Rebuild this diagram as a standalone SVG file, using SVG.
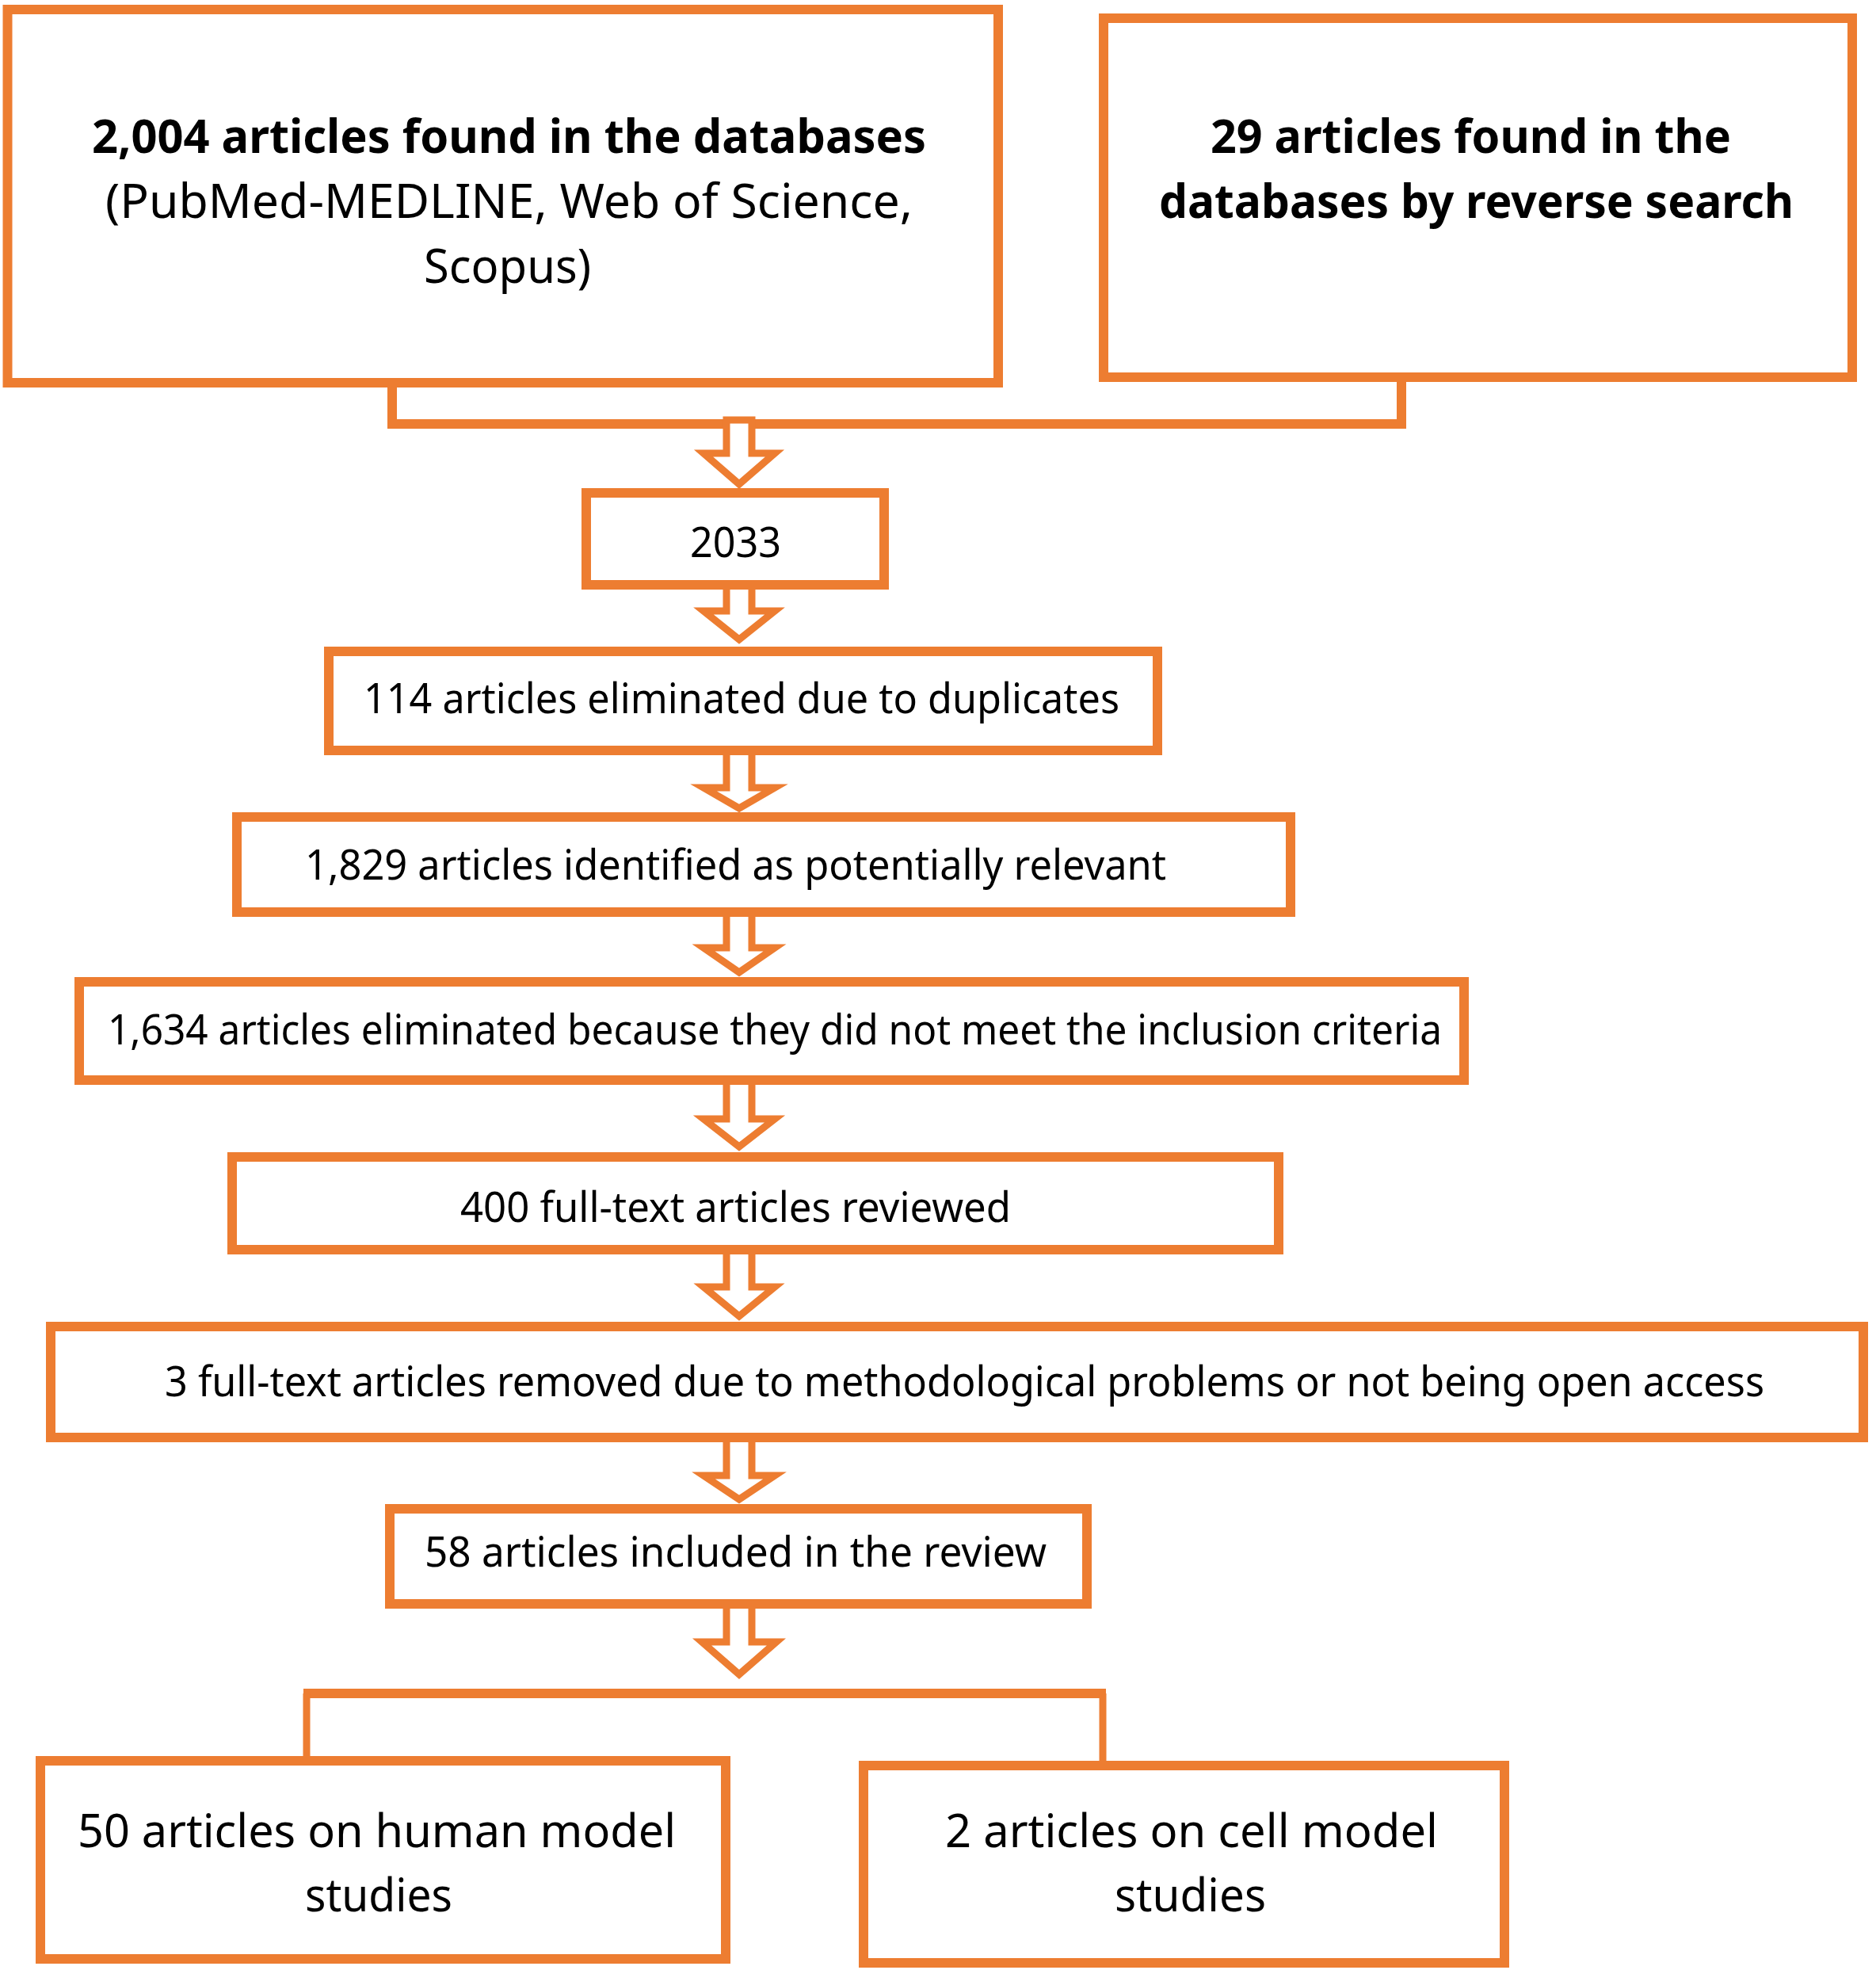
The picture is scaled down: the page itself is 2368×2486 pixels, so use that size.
<svg xmlns="http://www.w3.org/2000/svg" width="2368" height="2486" viewBox="0 0 2368 2486">
<style>
.box{fill:#ffffff;stroke:#ED7D31;stroke-width:12}
.arr{fill:#ffffff;stroke:#ED7D31;stroke-width:9;stroke-linejoin:miter}
.ln{fill:none;stroke:#ED7D31}
text{font-family:"Noto Sans","Open Sans",sans-serif;fill:#000000}
.b{font-weight:bold;font-size:60px}
.t{font-size:60px}
.m{font-size:52px}
.l{font-size:58px}
</style>
<rect width="2368" height="2486" fill="#ffffff"/>
<g id="connectors">
<polyline class="ln" stroke-width="12" points="495,480 495,535 1769,535 1769,476"/>
<polygon class="arr" points="917,530 949,530 949,572 978,572 933,611 888,572 917,572"/>
<polygon class="arr" points="917,738 949,738 949,771 978,771 933,807 888,771 917,771"/>
<polygon class="arr" points="917,947 949,947 949,994 978,994 933,1020 888,994 917,994"/>
<polygon class="arr" points="917,1151 949,1151 949,1196 978,1196 933,1227 888,1196 917,1196"/>
<polygon class="arr" points="917,1363 949,1363 949,1412 978,1412 933,1447 888,1412 917,1412"/>
<polygon class="arr" points="917,1577 949,1577 949,1624 978,1624 933,1661 888,1624 917,1624"/>
<polygon class="arr" points="917,1814 949,1814 949,1862 978,1862 933,1892 888,1862 917,1862"/>
<polygon class="arr" points="917,2024 949,2024 949,2072 980,2072 933,2113 886,2072 917,2072"/>
<line class="ln" stroke-width="12" x1="383" y1="2137" x2="1396" y2="2137"/>
<line class="ln" stroke-width="9" x1="387" y1="2137" x2="387" y2="2222"/>
<line class="ln" stroke-width="9" x1="1392" y1="2137" x2="1392" y2="2228"/>
</g>
<g id="node-databases">
<rect class="box" x="9.5" y="12" width="1250.5" height="471"/>
<text class="b" x="116" y="193" textLength="1053" lengthAdjust="spacingAndGlyphs">2,004 articles found in the databases</text>
<text class="t" x="133" y="275" textLength="1019" lengthAdjust="spacingAndGlyphs">(PubMed-MEDLINE, Web of Science,</text>
<text class="t" x="535" y="357" textLength="211" lengthAdjust="spacingAndGlyphs">Scopus)</text>
</g>
<g id="node-reverse">
<rect class="box" x="1393" y="23" width="945" height="453"/>
<text class="b" x="1528" y="193" textLength="657" lengthAdjust="spacingAndGlyphs">29 articles found in the</text>
<text class="b" x="1463" y="275" textLength="801" lengthAdjust="spacingAndGlyphs">databases by reverse search</text>
</g>
<g id="node-2033">
<rect class="box" x="740" y="622" width="376" height="116"/>
<text class="m" x="871" y="703" textLength="115" lengthAdjust="spacingAndGlyphs">2033</text>
</g>
<g id="node-duplicates">
<rect class="box" x="415" y="822" width="1046" height="125"/>
<text class="m" x="459" y="900" textLength="954" lengthAdjust="spacingAndGlyphs">114 articles eliminated due to duplicates</text>
</g>
<g id="node-relevant">
<rect class="box" x="299" y="1031" width="1330" height="120"/>
<text class="m" x="385" y="1110" textLength="1087" lengthAdjust="spacingAndGlyphs">1,829 articles identified as potentially relevant</text>
</g>
<g id="node-criteria">
<rect class="box" x="100" y="1239" width="1748" height="124"/>
<text class="m" x="136" y="1318" textLength="1684" lengthAdjust="spacingAndGlyphs">1,634 articles eliminated because they did not meet the inclusion criteria</text>
</g>
<g id="node-fulltext">
<rect class="box" x="293" y="1460" width="1321" height="117"/>
<text class="m" x="581" y="1542" textLength="695" lengthAdjust="spacingAndGlyphs">400 full-text articles reviewed</text>
</g>
<g id="node-removed">
<rect class="box" x="64" y="1674" width="2288" height="140"/>
<text class="m" x="208" y="1762" textLength="2019" lengthAdjust="spacingAndGlyphs">3 full-text articles removed due to methodological problems or not being open access</text>
</g>
<g id="node-included">
<rect class="box" x="492" y="1904" width="880" height="120"/>
<text class="m" x="536" y="1977" textLength="785" lengthAdjust="spacingAndGlyphs">58 articles included in the review</text>
</g>
<g id="node-human">
<rect class="box" x="51" y="2222" width="865" height="250"/>
<text class="l" x="98" y="2331" textLength="755" lengthAdjust="spacingAndGlyphs">50 articles on human model</text>
<text class="l" x="385" y="2412" textLength="186" lengthAdjust="spacingAndGlyphs">studies</text>
</g>
<g id="node-cell">
<rect class="box" x="1090" y="2228" width="809" height="249"/>
<text class="l" x="1193" y="2331" textLength="622" lengthAdjust="spacingAndGlyphs">2 articles on cell model</text>
<text class="l" x="1407" y="2412" textLength="191" lengthAdjust="spacingAndGlyphs">studies</text>
</g>
</svg>
